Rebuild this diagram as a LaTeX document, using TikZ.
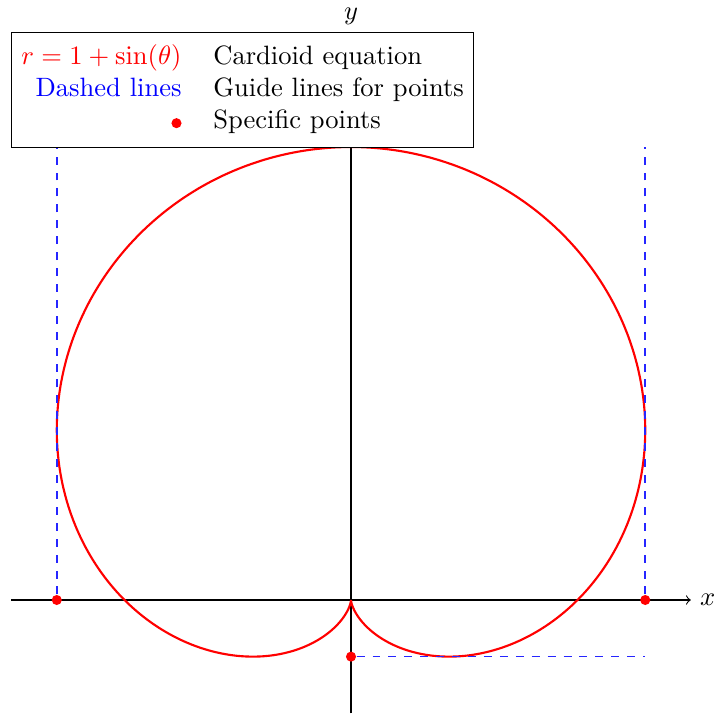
\documentclass[tikz,border=0pt]{standalone}
\usepackage{tikz}
\usetikzlibrary{shapes,arrows,positioning}
\usepackage{xcolor}

\begin{document}
\begin{tikzpicture}[x=3cm, y=3cm]
    % Define styles
    \tikzstyle{axis} = [->]
    \tikzstyle{curve} = [red, thick]
    \tikzstyle{guide} = [draw=blue!85, dashed, semithick]
    \tikzstyle{dot} = [circle, fill=red, inner sep=0pt, minimum size=3.8pt]
    \tikzstyle{legendbox} = [rectangle, draw=black, fill=white, anchor=north west, inner sep=3.6pt]

    \useasboundingbox (-1.5497,-0.5077) rectangle (1.6026,2.649);

    % Axes
    \coordinate (xmin) at (-1.5,0);
    \coordinate (xmax) at (1.5,0);
    \coordinate (ymin) at (0,-0.5);
    \coordinate (ymax) at (0,2.5);
    \draw [axis] (xmin) -- (xmax) node[right] (xlabel) {$x$};
    \draw [axis] (ymin) -- (ymax) node[above] (ylabel) {$y$};

    % Cardioid
    \draw [curve] plot [domain=0:360, samples=240, smooth] ({(1+sin(\x))*cos(\x)}, {(1+sin(\x))*sin(\x)});

    % Points and guide lines
    \node [dot] (pleft) at (-1.299,0) {};
    \node [dot] (pright) at (1.299,0) {};
    \node [dot] (pbottom) at (0,-0.25) {};
    \coordinate (topleft) at (-1.299,2);
    \coordinate (topright) at (1.299,2);
    \coordinate (bottomright) at (1.299,-0.25);
    \draw [guide] (pleft) -- (topleft);
    \draw [guide] (pright) -- (topright);
    \draw [guide] (pbottom) -- (bottomright);

    % Legend
    \node [legendbox] (legend) at (-1.5,2.507) {%
        \begin{tabular}{@{}r@{\hspace{12pt}}l@{}}
            \textcolor{red}{$r = 1 + \sin(\theta)$} & Cardioid equation \\
            \textcolor{blue}{Dashed lines} & Guide lines for points \\
            \tikz\fill[red] (0,0) circle (1.9pt); & Specific points
        \end{tabular}};
\end{tikzpicture}
\end{document}
